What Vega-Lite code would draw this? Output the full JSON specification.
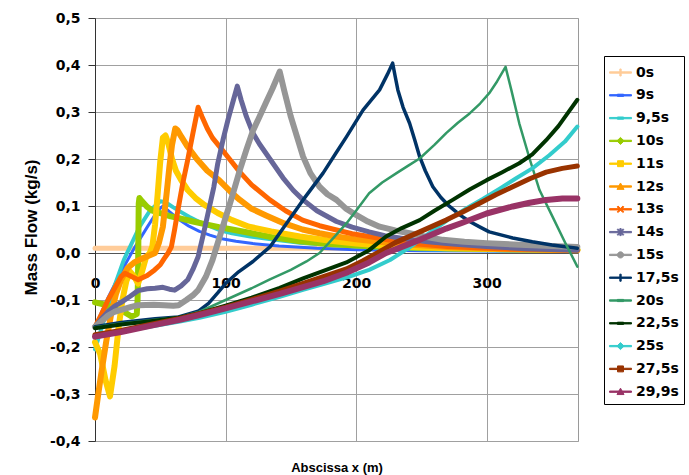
{
  "$schema": "https://vega.github.io/schema/vega-lite/v6.json",
  "width": 483,
  "height": 423,
  "autosize": {"type": "none"},
  "padding": {"left": 95, "top": 18, "right": 111, "bottom": 34},
  "background": "#ffffff",
  "config": {
    "view": {"stroke": "#9a9a9a", "strokeWidth": 1},
    "font": "DejaVu Sans",
    "line": {"strokeCap": "round", "strokeJoin": "round", "clip": true},
    "legend": {
      "orient": "none",
      "legendX": 509,
      "legendY": 38,
      "title": null,
      "padding": 5,
      "strokeColor": "#000000",
      "fillColor": "#ffffff",
      "labelFont": "DejaVu Sans",
      "labelFontSize": 14,
      "labelFontWeight": "bold",
      "labelColor": "#000000",
      "labelOffset": 4,
      "symbolSize": 484,
      "symbolStrokeWidth": 1,
      "symbolOpacity": 1,
      "rowPadding": 3.8
    }
  },
  "data": {
    "values": [
      {"time": "0s", "x": 0, "flow": 0.01}, {"time": "0s", "x": 100, "flow": 0.01}, {"time": "0s", "x": 200, "flow": 0.01}, {"time": "0s", "x": 300, "flow": 0.01}, {"time": "0s", "x": 369.5, "flow": 0.01},

      {"time": "9s", "x": 0, "flow": -0.157}, {"time": "9s", "x": 10, "flow": -0.095}, {"time": "9s", "x": 20, "flow": -0.04}, {"time": "9s", "x": 30, "flow": 0.01}, {"time": "9s", "x": 40, "flow": 0.055}, {"time": "9s", "x": 48, "flow": 0.09}, {"time": "9s", "x": 52, "flow": 0.1}, {"time": "9s", "x": 57, "flow": 0.088}, {"time": "9s", "x": 64, "flow": 0.072}, {"time": "9s", "x": 72, "flow": 0.057}, {"time": "9s", "x": 80, "flow": 0.046}, {"time": "9s", "x": 88, "flow": 0.038}, {"time": "9s", "x": 96, "flow": 0.031}, {"time": "9s", "x": 108, "flow": 0.025}, {"time": "9s", "x": 121, "flow": 0.02}, {"time": "9s", "x": 141, "flow": 0.015}, {"time": "9s", "x": 170, "flow": 0.01}, {"time": "9s", "x": 200, "flow": 0.007}, {"time": "9s", "x": 250, "flow": 0.005}, {"time": "9s", "x": 300, "flow": 0.004}, {"time": "9s", "x": 369.5, "flow": 0.003},

      {"time": "9,5s", "x": 0, "flow": -0.205}, {"time": "9,5s", "x": 5, "flow": -0.16}, {"time": "9,5s", "x": 10, "flow": -0.115}, {"time": "9,5s", "x": 15, "flow": -0.07}, {"time": "9,5s", "x": 22, "flow": -0.015}, {"time": "9,5s", "x": 28, "flow": 0.02}, {"time": "9,5s", "x": 34, "flow": 0.055}, {"time": "9,5s", "x": 42, "flow": 0.09}, {"time": "9,5s", "x": 50, "flow": 0.11}, {"time": "9,5s", "x": 54, "flow": 0.108}, {"time": "9,5s", "x": 60, "flow": 0.097}, {"time": "9,5s", "x": 66, "flow": 0.087}, {"time": "9,5s", "x": 72, "flow": 0.077}, {"time": "9,5s", "x": 80, "flow": 0.066}, {"time": "9,5s", "x": 88, "flow": 0.057}, {"time": "9,5s", "x": 95, "flow": 0.049}, {"time": "9,5s", "x": 105, "flow": 0.042}, {"time": "9,5s", "x": 119, "flow": 0.035}, {"time": "9,5s", "x": 135, "flow": 0.029}, {"time": "9,5s", "x": 157, "flow": 0.022}, {"time": "9,5s", "x": 180, "flow": 0.017}, {"time": "9,5s", "x": 210, "flow": 0.012}, {"time": "9,5s", "x": 250, "flow": 0.008}, {"time": "9,5s", "x": 300, "flow": 0.006}, {"time": "9,5s", "x": 369.5, "flow": 0.004},

      {"time": "10s", "x": 0, "flow": -0.105}, {"time": "10s", "x": 8, "flow": -0.11}, {"time": "10s", "x": 15, "flow": -0.118}, {"time": "10s", "x": 22, "flow": -0.125}, {"time": "10s", "x": 28, "flow": -0.135}, {"time": "10s", "x": 32, "flow": -0.13}, {"time": "10s", "x": 32.6, "flow": -0.1}, {"time": "10s", "x": 32.8, "flow": -0.07}, {"time": "10s", "x": 33, "flow": -0.04}, {"time": "10s", "x": 33.1, "flow": -0.01}, {"time": "10s", "x": 33.2, "flow": 0.02}, {"time": "10s", "x": 33.3, "flow": 0.05}, {"time": "10s", "x": 33.4, "flow": 0.08}, {"time": "10s", "x": 33.5, "flow": 0.105}, {"time": "10s", "x": 34, "flow": 0.117}, {"time": "10s", "x": 36, "flow": 0.11}, {"time": "10s", "x": 40, "flow": 0.098}, {"time": "10s", "x": 44, "flow": 0.09}, {"time": "10s", "x": 50, "flow": 0.085}, {"time": "10s", "x": 58, "flow": 0.078}, {"time": "10s", "x": 66, "flow": 0.073}, {"time": "10s", "x": 75, "flow": 0.067}, {"time": "10s", "x": 85, "flow": 0.061}, {"time": "10s", "x": 95, "flow": 0.055}, {"time": "10s", "x": 105, "flow": 0.05}, {"time": "10s", "x": 118, "flow": 0.043}, {"time": "10s", "x": 135, "flow": 0.034}, {"time": "10s", "x": 157, "flow": 0.025}, {"time": "10s", "x": 180, "flow": 0.019}, {"time": "10s", "x": 200, "flow": 0.016}, {"time": "10s", "x": 230, "flow": 0.012}, {"time": "10s", "x": 270, "flow": 0.01}, {"time": "10s", "x": 320, "flow": 0.008}, {"time": "10s", "x": 369.5, "flow": 0.007},

      {"time": "11s", "x": 0, "flow": -0.19}, {"time": "11s", "x": 4, "flow": -0.215}, {"time": "11s", "x": 8, "flow": -0.27}, {"time": "11s", "x": 11.5, "flow": -0.305}, {"time": "11s", "x": 15, "flow": -0.24}, {"time": "11s", "x": 18, "flow": -0.16}, {"time": "11s", "x": 21, "flow": -0.1}, {"time": "11s", "x": 24, "flow": -0.06}, {"time": "11s", "x": 27, "flow": -0.04}, {"time": "11s", "x": 30, "flow": -0.05}, {"time": "11s", "x": 33, "flow": -0.065}, {"time": "11s", "x": 36, "flow": -0.04}, {"time": "11s", "x": 39, "flow": -0.01}, {"time": "11s", "x": 42, "flow": 0.0}, {"time": "11s", "x": 44, "flow": 0.015}, {"time": "11s", "x": 46, "flow": 0.06}, {"time": "11s", "x": 48, "flow": 0.125}, {"time": "11s", "x": 50, "flow": 0.195}, {"time": "11s", "x": 52, "flow": 0.245}, {"time": "11s", "x": 54, "flow": 0.25}, {"time": "11s", "x": 56, "flow": 0.235}, {"time": "11s", "x": 59, "flow": 0.2}, {"time": "11s", "x": 62, "flow": 0.175}, {"time": "11s", "x": 66, "flow": 0.155}, {"time": "11s", "x": 71, "flow": 0.134}, {"time": "11s", "x": 77, "flow": 0.117}, {"time": "11s", "x": 84, "flow": 0.102}, {"time": "11s", "x": 94, "flow": 0.085}, {"time": "11s", "x": 105, "flow": 0.07}, {"time": "11s", "x": 118, "flow": 0.056}, {"time": "11s", "x": 135, "flow": 0.046}, {"time": "11s", "x": 157, "flow": 0.035}, {"time": "11s", "x": 180, "flow": 0.026}, {"time": "11s", "x": 200, "flow": 0.02}, {"time": "11s", "x": 230, "flow": 0.014}, {"time": "11s", "x": 270, "flow": 0.01}, {"time": "11s", "x": 320, "flow": 0.008}, {"time": "11s", "x": 369.5, "flow": 0.007},

      {"time": "12s", "x": 0, "flow": -0.35}, {"time": "12s", "x": 2.5, "flow": -0.3}, {"time": "12s", "x": 4.8, "flow": -0.256}, {"time": "12s", "x": 8.5, "flow": -0.19}, {"time": "12s", "x": 12.5, "flow": -0.128}, {"time": "12s", "x": 16, "flow": -0.088}, {"time": "12s", "x": 20, "flow": -0.057}, {"time": "12s", "x": 25, "flow": -0.032}, {"time": "12s", "x": 30, "flow": -0.02}, {"time": "12s", "x": 36, "flow": -0.012}, {"time": "12s", "x": 42, "flow": -0.005}, {"time": "12s", "x": 46, "flow": 0.0}, {"time": "12s", "x": 49, "flow": 0.022}, {"time": "12s", "x": 52, "flow": 0.056}, {"time": "12s", "x": 55, "flow": 0.13}, {"time": "12s", "x": 57, "flow": 0.184}, {"time": "12s", "x": 59, "flow": 0.23}, {"time": "12s", "x": 61.5, "flow": 0.265}, {"time": "12s", "x": 63, "flow": 0.262}, {"time": "12s", "x": 66, "flow": 0.248}, {"time": "12s", "x": 71, "flow": 0.226}, {"time": "12s", "x": 78, "flow": 0.2}, {"time": "12s", "x": 86, "flow": 0.175}, {"time": "12s", "x": 95, "flow": 0.155}, {"time": "12s", "x": 104, "flow": 0.13}, {"time": "12s", "x": 111, "flow": 0.113}, {"time": "12s", "x": 120, "flow": 0.094}, {"time": "12s", "x": 131, "flow": 0.08}, {"time": "12s", "x": 145, "flow": 0.063}, {"time": "12s", "x": 159, "flow": 0.05}, {"time": "12s", "x": 172, "flow": 0.042}, {"time": "12s", "x": 185, "flow": 0.035}, {"time": "12s", "x": 200, "flow": 0.029}, {"time": "12s", "x": 218, "flow": 0.024}, {"time": "12s", "x": 240, "flow": 0.018}, {"time": "12s", "x": 270, "flow": 0.013}, {"time": "12s", "x": 310, "flow": 0.009}, {"time": "12s", "x": 369.5, "flow": 0.006},

      {"time": "13s", "x": 0, "flow": -0.157}, {"time": "13s", "x": 5, "flow": -0.13}, {"time": "13s", "x": 10, "flow": -0.1}, {"time": "13s", "x": 15, "flow": -0.075}, {"time": "13s", "x": 20, "flow": -0.05}, {"time": "13s", "x": 23, "flow": -0.043}, {"time": "13s", "x": 28, "flow": -0.05}, {"time": "13s", "x": 33, "flow": -0.057}, {"time": "13s", "x": 40, "flow": -0.048}, {"time": "13s", "x": 45.7, "flow": -0.036}, {"time": "13s", "x": 50, "flow": -0.025}, {"time": "13s", "x": 53, "flow": -0.012}, {"time": "13s", "x": 56, "flow": 0.0}, {"time": "13s", "x": 58.5, "flow": 0.013}, {"time": "13s", "x": 61, "flow": 0.05}, {"time": "13s", "x": 63.5, "flow": 0.091}, {"time": "13s", "x": 67, "flow": 0.145}, {"time": "13s", "x": 71, "flow": 0.198}, {"time": "13s", "x": 75, "flow": 0.255}, {"time": "13s", "x": 79, "flow": 0.31}, {"time": "13s", "x": 82, "flow": 0.29}, {"time": "13s", "x": 86, "flow": 0.265}, {"time": "13s", "x": 90, "flow": 0.245}, {"time": "13s", "x": 95, "flow": 0.228}, {"time": "13s", "x": 103, "flow": 0.2}, {"time": "13s", "x": 111, "flow": 0.172}, {"time": "13s", "x": 120, "flow": 0.145}, {"time": "13s", "x": 134, "flow": 0.113}, {"time": "13s", "x": 146, "flow": 0.09}, {"time": "13s", "x": 159, "flow": 0.07}, {"time": "13s", "x": 172, "flow": 0.058}, {"time": "13s", "x": 185, "flow": 0.049}, {"time": "13s", "x": 197, "flow": 0.041}, {"time": "13s", "x": 210, "flow": 0.035}, {"time": "13s", "x": 236, "flow": 0.022}, {"time": "13s", "x": 270, "flow": 0.014}, {"time": "13s", "x": 310, "flow": 0.009}, {"time": "13s", "x": 369.5, "flow": 0.006},

      {"time": "14s", "x": 0, "flow": -0.157}, {"time": "14s", "x": 5, "flow": -0.14}, {"time": "14s", "x": 10, "flow": -0.125}, {"time": "14s", "x": 15, "flow": -0.113}, {"time": "14s", "x": 20, "flow": -0.105}, {"time": "14s", "x": 27, "flow": -0.092}, {"time": "14s", "x": 33, "flow": -0.08}, {"time": "14s", "x": 40, "flow": -0.076}, {"time": "14s", "x": 46, "flow": -0.075}, {"time": "14s", "x": 52, "flow": -0.073}, {"time": "14s", "x": 57, "flow": -0.077}, {"time": "14s", "x": 61, "flow": -0.079}, {"time": "14s", "x": 66, "flow": -0.07}, {"time": "14s", "x": 71, "flow": -0.057}, {"time": "14s", "x": 75, "flow": -0.035}, {"time": "14s", "x": 79, "flow": -0.008}, {"time": "14s", "x": 83, "flow": 0.04}, {"time": "14s", "x": 87, "flow": 0.09}, {"time": "14s", "x": 91, "flow": 0.14}, {"time": "14s", "x": 94, "flow": 0.19}, {"time": "14s", "x": 98, "flow": 0.24}, {"time": "14s", "x": 102, "flow": 0.285}, {"time": "14s", "x": 106, "flow": 0.325}, {"time": "14s", "x": 109, "flow": 0.355}, {"time": "14s", "x": 112, "flow": 0.325}, {"time": "14s", "x": 116, "flow": 0.29}, {"time": "14s", "x": 121, "flow": 0.255}, {"time": "14s", "x": 126, "flow": 0.232}, {"time": "14s", "x": 134, "flow": 0.2}, {"time": "14s", "x": 144, "flow": 0.16}, {"time": "14s", "x": 152, "flow": 0.133}, {"time": "14s", "x": 159.4, "flow": 0.113}, {"time": "14s", "x": 170, "flow": 0.09}, {"time": "14s", "x": 185, "flow": 0.067}, {"time": "14s", "x": 197, "flow": 0.055}, {"time": "14s", "x": 210, "flow": 0.045}, {"time": "14s", "x": 222, "flow": 0.037}, {"time": "14s", "x": 236, "flow": 0.031}, {"time": "14s", "x": 255, "flow": 0.024}, {"time": "14s", "x": 274, "flow": 0.019}, {"time": "14s", "x": 300, "flow": 0.014}, {"time": "14s", "x": 330, "flow": 0.009}, {"time": "14s", "x": 369.5, "flow": 0.006},

      {"time": "15s", "x": 0, "flow": -0.157}, {"time": "15s", "x": 5, "flow": -0.145}, {"time": "15s", "x": 10, "flow": -0.133}, {"time": "15s", "x": 15, "flow": -0.125}, {"time": "15s", "x": 20, "flow": -0.121}, {"time": "15s", "x": 27, "flow": -0.115}, {"time": "15s", "x": 33, "flow": -0.111}, {"time": "15s", "x": 45, "flow": -0.11}, {"time": "15s", "x": 53, "flow": -0.111}, {"time": "15s", "x": 60, "flow": -0.112}, {"time": "15s", "x": 64, "flow": -0.111}, {"time": "15s", "x": 70, "flow": -0.1}, {"time": "15s", "x": 75, "flow": -0.09}, {"time": "15s", "x": 79, "flow": -0.079}, {"time": "15s", "x": 85, "flow": -0.05}, {"time": "15s", "x": 90, "flow": -0.015}, {"time": "15s", "x": 95, "flow": 0.03}, {"time": "15s", "x": 100, "flow": 0.075}, {"time": "15s", "x": 105, "flow": 0.12}, {"time": "15s", "x": 111, "flow": 0.177}, {"time": "15s", "x": 116, "flow": 0.22}, {"time": "15s", "x": 121, "flow": 0.26}, {"time": "15s", "x": 126, "flow": 0.29}, {"time": "15s", "x": 131, "flow": 0.32}, {"time": "15s", "x": 136, "flow": 0.35}, {"time": "15s", "x": 141.5, "flow": 0.386}, {"time": "15s", "x": 145, "flow": 0.345}, {"time": "15s", "x": 150, "flow": 0.29}, {"time": "15s", "x": 155, "flow": 0.245}, {"time": "15s", "x": 159.4, "flow": 0.205}, {"time": "15s", "x": 165, "flow": 0.17}, {"time": "15s", "x": 172, "flow": 0.141}, {"time": "15s", "x": 178, "flow": 0.125}, {"time": "15s", "x": 185, "flow": 0.113}, {"time": "15s", "x": 192, "flow": 0.095}, {"time": "15s", "x": 200, "flow": 0.081}, {"time": "15s", "x": 209, "flow": 0.067}, {"time": "15s", "x": 218, "flow": 0.056}, {"time": "15s", "x": 230, "flow": 0.048}, {"time": "15s", "x": 241, "flow": 0.042}, {"time": "15s", "x": 254, "flow": 0.034}, {"time": "15s", "x": 266.5, "flow": 0.028}, {"time": "15s", "x": 283, "flow": 0.024}, {"time": "15s", "x": 300, "flow": 0.021}, {"time": "15s", "x": 330, "flow": 0.017}, {"time": "15s", "x": 369.5, "flow": 0.013},

      {"time": "17,5s", "x": 0, "flow": -0.157}, {"time": "17,5s", "x": 20, "flow": -0.148}, {"time": "17,5s", "x": 46, "flow": -0.14}, {"time": "17,5s", "x": 64, "flow": -0.136}, {"time": "17,5s", "x": 79, "flow": -0.124}, {"time": "17,5s", "x": 87, "flow": -0.107}, {"time": "17,5s", "x": 94, "flow": -0.085}, {"time": "17,5s", "x": 100, "flow": -0.065}, {"time": "17,5s", "x": 110, "flow": -0.04}, {"time": "17,5s", "x": 121, "flow": -0.018}, {"time": "17,5s", "x": 134, "flow": 0.013}, {"time": "17,5s", "x": 146, "flow": 0.06}, {"time": "17,5s", "x": 159.4, "flow": 0.113}, {"time": "17,5s", "x": 174.7, "flow": 0.17}, {"time": "17,5s", "x": 184, "flow": 0.21}, {"time": "17,5s", "x": 192.6, "flow": 0.247}, {"time": "17,5s", "x": 205.3, "flow": 0.304}, {"time": "17,5s", "x": 218, "flow": 0.347}, {"time": "17,5s", "x": 224, "flow": 0.38}, {"time": "17,5s", "x": 228, "flow": 0.404}, {"time": "17,5s", "x": 230, "flow": 0.375}, {"time": "17,5s", "x": 232, "flow": 0.347}, {"time": "17,5s", "x": 236, "flow": 0.31}, {"time": "17,5s", "x": 241, "flow": 0.276}, {"time": "17,5s", "x": 245, "flow": 0.24}, {"time": "17,5s", "x": 248.7, "flow": 0.205}, {"time": "17,5s", "x": 253, "flow": 0.175}, {"time": "17,5s", "x": 258.8, "flow": 0.141}, {"time": "17,5s", "x": 265, "flow": 0.118}, {"time": "17,5s", "x": 271.6, "flow": 0.099}, {"time": "17,5s", "x": 280, "flow": 0.08}, {"time": "17,5s", "x": 287, "flow": 0.067}, {"time": "17,5s", "x": 295, "flow": 0.055}, {"time": "17,5s", "x": 302, "flow": 0.045}, {"time": "17,5s", "x": 320, "flow": 0.032}, {"time": "17,5s", "x": 335, "flow": 0.024}, {"time": "17,5s", "x": 350, "flow": 0.017}, {"time": "17,5s", "x": 369.5, "flow": 0.01},

      {"time": "20s", "x": 0, "flow": -0.158}, {"time": "20s", "x": 20, "flow": -0.15}, {"time": "20s", "x": 46, "flow": -0.142}, {"time": "20s", "x": 65, "flow": -0.136}, {"time": "20s", "x": 80, "flow": -0.125}, {"time": "20s", "x": 100, "flow": -0.1}, {"time": "20s", "x": 120, "flow": -0.075}, {"time": "20s", "x": 134, "flow": -0.056}, {"time": "20s", "x": 150, "flow": -0.036}, {"time": "20s", "x": 162, "flow": -0.018}, {"time": "20s", "x": 172, "flow": 0.0}, {"time": "20s", "x": 182, "flow": 0.03}, {"time": "20s", "x": 192.6, "flow": 0.063}, {"time": "20s", "x": 200, "flow": 0.09}, {"time": "20s", "x": 210, "flow": 0.127}, {"time": "20s", "x": 220, "flow": 0.15}, {"time": "20s", "x": 231, "flow": 0.17}, {"time": "20s", "x": 240, "flow": 0.186}, {"time": "20s", "x": 248.7, "flow": 0.201}, {"time": "20s", "x": 260, "flow": 0.23}, {"time": "20s", "x": 269, "flow": 0.255}, {"time": "20s", "x": 278, "flow": 0.277}, {"time": "20s", "x": 287, "flow": 0.297}, {"time": "20s", "x": 295, "flow": 0.318}, {"time": "20s", "x": 302, "flow": 0.34}, {"time": "20s", "x": 308, "flow": 0.365}, {"time": "20s", "x": 314.5, "flow": 0.396}, {"time": "20s", "x": 319, "flow": 0.346}, {"time": "20s", "x": 325, "flow": 0.276}, {"time": "20s", "x": 333, "flow": 0.2}, {"time": "20s", "x": 340.5, "flow": 0.134}, {"time": "20s", "x": 350, "flow": 0.08}, {"time": "20s", "x": 360, "flow": 0.023}, {"time": "20s", "x": 369.5, "flow": -0.029},

      {"time": "22,5s", "x": 0, "flow": -0.16}, {"time": "22,5s", "x": 20, "flow": -0.152}, {"time": "22,5s", "x": 46, "flow": -0.144}, {"time": "22,5s", "x": 65, "flow": -0.137}, {"time": "22,5s", "x": 80, "flow": -0.128}, {"time": "22,5s", "x": 100, "flow": -0.112}, {"time": "22,5s", "x": 120, "flow": -0.095}, {"time": "22,5s", "x": 141.5, "flow": -0.074}, {"time": "22,5s", "x": 159.4, "flow": -0.054}, {"time": "22,5s", "x": 175, "flow": -0.038}, {"time": "22,5s", "x": 192.6, "flow": -0.02}, {"time": "22,5s", "x": 200, "flow": -0.009}, {"time": "22,5s", "x": 210, "flow": 0.006}, {"time": "22,5s", "x": 223, "flow": 0.035}, {"time": "22,5s", "x": 235, "flow": 0.053}, {"time": "22,5s", "x": 248.7, "flow": 0.07}, {"time": "22,5s", "x": 260, "flow": 0.09}, {"time": "22,5s", "x": 274, "flow": 0.113}, {"time": "22,5s", "x": 287, "flow": 0.135}, {"time": "22,5s", "x": 300, "flow": 0.155}, {"time": "22,5s", "x": 312, "flow": 0.172}, {"time": "22,5s", "x": 325, "flow": 0.191}, {"time": "22,5s", "x": 335, "flow": 0.21}, {"time": "22,5s", "x": 345.6, "flow": 0.24}, {"time": "22,5s", "x": 355, "flow": 0.27}, {"time": "22,5s", "x": 362, "flow": 0.297}, {"time": "22,5s", "x": 369.5, "flow": 0.326},

      {"time": "25s", "x": 0, "flow": -0.175}, {"time": "25s", "x": 20, "flow": -0.167}, {"time": "25s", "x": 46, "flow": -0.155}, {"time": "25s", "x": 65, "flow": -0.146}, {"time": "25s", "x": 80, "flow": -0.138}, {"time": "25s", "x": 100, "flow": -0.125}, {"time": "25s", "x": 120, "flow": -0.11}, {"time": "25s", "x": 141.5, "flow": -0.093}, {"time": "25s", "x": 160, "flow": -0.078}, {"time": "25s", "x": 175, "flow": -0.066}, {"time": "25s", "x": 195, "flow": -0.05}, {"time": "25s", "x": 210, "flow": -0.036}, {"time": "25s", "x": 226, "flow": -0.015}, {"time": "25s", "x": 240, "flow": 0.01}, {"time": "25s", "x": 255, "flow": 0.04}, {"time": "25s", "x": 270, "flow": 0.07}, {"time": "25s", "x": 285, "flow": 0.096}, {"time": "25s", "x": 297, "flow": 0.115}, {"time": "25s", "x": 310, "flow": 0.137}, {"time": "25s", "x": 322, "flow": 0.158}, {"time": "25s", "x": 335, "flow": 0.18}, {"time": "25s", "x": 348, "flow": 0.208}, {"time": "25s", "x": 360, "flow": 0.237}, {"time": "25s", "x": 369.5, "flow": 0.269},

      {"time": "27,5s", "x": 0, "flow": -0.174}, {"time": "27,5s", "x": 20, "flow": -0.165}, {"time": "27,5s", "x": 46, "flow": -0.15}, {"time": "27,5s", "x": 65, "flow": -0.139}, {"time": "27,5s", "x": 80, "flow": -0.129}, {"time": "27,5s", "x": 100, "flow": -0.115}, {"time": "27,5s", "x": 120, "flow": -0.099}, {"time": "27,5s", "x": 141.5, "flow": -0.081}, {"time": "27,5s", "x": 160, "flow": -0.064}, {"time": "27,5s", "x": 175, "flow": -0.05}, {"time": "27,5s", "x": 192.6, "flow": -0.034}, {"time": "27,5s", "x": 205, "flow": -0.017}, {"time": "27,5s", "x": 218, "flow": 0.003}, {"time": "27,5s", "x": 230, "flow": 0.022}, {"time": "27,5s", "x": 248.7, "flow": 0.045}, {"time": "27,5s", "x": 269, "flow": 0.07}, {"time": "27,5s", "x": 282, "flow": 0.088}, {"time": "27,5s", "x": 294.6, "flow": 0.106}, {"time": "27,5s", "x": 307, "flow": 0.124}, {"time": "27,5s", "x": 320, "flow": 0.141}, {"time": "27,5s", "x": 333, "flow": 0.158}, {"time": "27,5s", "x": 345.6, "flow": 0.172}, {"time": "27,5s", "x": 358, "flow": 0.18}, {"time": "27,5s", "x": 369.5, "flow": 0.185},

      {"time": "29,9s", "x": 0, "flow": -0.178}, {"time": "29,9s", "x": 20, "flow": -0.168}, {"time": "29,9s", "x": 46, "flow": -0.153}, {"time": "29,9s", "x": 65, "flow": -0.142}, {"time": "29,9s", "x": 80, "flow": -0.132}, {"time": "29,9s", "x": 100, "flow": -0.118}, {"time": "29,9s", "x": 120, "flow": -0.103}, {"time": "29,9s", "x": 141.5, "flow": -0.087}, {"time": "29,9s", "x": 160, "flow": -0.072}, {"time": "29,9s", "x": 175, "flow": -0.06}, {"time": "29,9s", "x": 192.6, "flow": -0.042}, {"time": "29,9s", "x": 210, "flow": -0.02}, {"time": "29,9s", "x": 223, "flow": 0.0}, {"time": "29,9s", "x": 235, "flow": 0.013}, {"time": "29,9s", "x": 248.7, "flow": 0.028}, {"time": "29,9s", "x": 269, "flow": 0.052}, {"time": "29,9s", "x": 282, "flow": 0.065}, {"time": "29,9s", "x": 300, "flow": 0.084}, {"time": "29,9s", "x": 320, "flow": 0.099}, {"time": "29,9s", "x": 333, "flow": 0.107}, {"time": "29,9s", "x": 345.6, "flow": 0.113}, {"time": "29,9s", "x": 358, "flow": 0.116}, {"time": "29,9s", "x": 369.5, "flow": 0.116}
    ]
  },
  "encoding": {
    "x": {
      "field": "x",
      "type": "quantitative",
      "scale": {"domain": [0, 370], "nice": false, "zero": false},
      "axis": {
        "values": [0, 100, 200, 300],
        "format": "d",
        "offset": -188,
        "labelFlush": false,
        "labelFont": "DejaVu Sans",
        "labelFontSize": 14,
        "labelFontWeight": "bold",
        "labelColor": "#000000",
        "labelPadding": 17,
        "tickSize": 6,
        "tickColor": "#555555",
        "domainColor": "#555555",
        "grid": true,
        "gridColor": "#a0a0a0",
        "title": "Abscissa x (m)",
        "titleFont": "Liberation Sans",
        "titleFontSize": 13,
        "titleFontWeight": "bold",
        "titleColor": "#000000",
        "titleY": 214,
        "titleBaseline": "middle"
      }
    },
    "y": {
      "field": "flow",
      "type": "quantitative",
      "scale": {"domain": [-0.4, 0.5], "nice": false, "zero": false},
      "axis": {
        "values": [-0.4, -0.3, -0.2, -0.1, 0, 0.1, 0.2, 0.3, 0.4, 0.5],
        "labelExpr": "replace(replace(format(datum.value, '.1f'), '.', ','), '−', '-')",
        "labelFont": "DejaVu Sans",
        "labelFontSize": 14,
        "labelFontWeight": "bold",
        "labelColor": "#000000",
        "labelPadding": 8,
        "tickSize": 7,
        "tickColor": "#333333",
        "domainColor": "#333333",
        "grid": true,
        "gridColor": "#a0a0a0",
        "title": "Mass Flow (kg/s)",
        "titleFont": "Liberation Sans",
        "titleFontSize": 17,
        "titleFontWeight": "bold",
        "titleColor": "#000000",
        "titleAngle": 270,
        "titleX": -64,
        "titleY": 209,
        "titleAlign": "center",
        "titleBaseline": "middle"
      }
    },
    "color": {
      "field": "time",
      "type": "nominal",
      "scale": {
        "domain": ["0s", "9s", "9,5s", "10s", "11s", "12s", "13s", "14s", "15s", "17,5s", "20s", "22,5s", "25s", "27,5s", "29,9s"],
        "range": ["#FFCC99", "#3366FF", "#33CCCC", "#99CC00", "#FFCC00", "#FF9900", "#FF6600", "#666699", "#969696", "#003366", "#339966", "#003300", "#33CCCC", "#993300", "#993366"]
      }
    }
  },
  "layer": [
    {
      "description": "Legend key only: the series' line-and-marker swatches; the filter leaves no rows, so nothing is drawn in the plot.",
      "transform": [{"filter": {"field": "x", "lt": 0}}],
      "mark": {"type": "point", "filled": true, "opacity": 1, "strokeWidth": 1},
      "encoding": {
        "shape": {
          "field": "time",
          "type": "nominal",
          "scale": {
            "domain": ["0s", "9s", "9,5s", "10s", "11s", "12s", "13s", "14s", "15s", "17,5s", "20s", "22,5s", "25s", "27,5s", "29,9s"],
            "range": [
              "M-1,-0.06H1V0.06H-1ZM-0.06,-0.32H0.06V0.32H-0.06Z",
              "M-1,-0.06H1V0.06H-1ZM-0.28,-0.1H0.28V0.1H-0.28Z",
              "M-1,-0.06H1V0.06H-1ZM-0.28,-0.1H0.28V0.1H-0.28Z",
              "M-1,-0.06H1V0.06H-1ZM0,-0.32L0.32,0L0,0.32L-0.32,0Z",
              "M-1,-0.06H1V0.06H-1ZM-0.27,-0.27H0.27V0.27H-0.27Z",
              "M-1,-0.06H1V0.06H-1ZM0,-0.32L0.32,0.26H-0.32Z",
              "M-1,-0.06H1V0.06H-1ZM-0.3,-0.22L-0.22,-0.3L0.3,0.22L0.22,0.3ZM0.22,-0.3L0.3,-0.22L-0.22,0.3L-0.3,0.22Z",
              "M-1,-0.06H1V0.06H-1ZM-0.3,-0.22L-0.22,-0.3L0.3,0.22L0.22,0.3ZM0.22,-0.3L0.3,-0.22L-0.22,0.3L-0.3,0.22ZM-0.06,-0.32H0.06V0.32H-0.06Z",
              "M-1,-0.06H1V0.06H-1ZM-0.28,0A0.28,0.28,0,1,1,0.28,0A0.28,0.28,0,1,1,-0.28,0Z",
              "M-1,-0.06H1V0.06H-1ZM-0.06,-0.32H0.06V0.32H-0.06Z",
              "M-1,-0.06H1V0.06H-1ZM-0.28,-0.1H0.28V0.1H-0.28Z",
              "M-1,-0.06H1V0.06H-1ZM-0.28,-0.1H0.28V0.1H-0.28Z",
              "M-1,-0.06H1V0.06H-1ZM0,-0.32L0.32,0L0,0.32L-0.32,0Z",
              "M-1,-0.06H1V0.06H-1ZM-0.27,-0.27H0.27V0.27H-0.27Z",
              "M-1,-0.06H1V0.06H-1ZM0,-0.32L0.32,0.26H-0.32Z"
            ]
          }
        }
      }
    },
    {"transform": [{"filter": {"field": "time", "equal": "0s"}}], "mark": {"type": "line", "strokeWidth": 5}},
    {"transform": [{"filter": {"field": "time", "equal": "9s"}}], "mark": {"type": "line", "strokeWidth": 3}},
    {"transform": [{"filter": {"field": "time", "equal": "9,5s"}}], "mark": {"type": "line", "strokeWidth": 4}},
    {"transform": [{"filter": {"field": "time", "equal": "10s"}}], "mark": {"type": "line", "strokeWidth": 6}},
    {"transform": [{"filter": {"field": "time", "equal": "11s"}}], "mark": {"type": "line", "strokeWidth": 6}},
    {"transform": [{"filter": {"field": "time", "equal": "12s"}}], "mark": {"type": "line", "strokeWidth": 6}},
    {"transform": [{"filter": {"field": "time", "equal": "13s"}}], "mark": {"type": "line", "strokeWidth": 5}},
    {"transform": [{"filter": {"field": "time", "equal": "14s"}}], "mark": {"type": "line", "strokeWidth": 5}},
    {"transform": [{"filter": {"field": "time", "equal": "15s"}}], "mark": {"type": "line", "strokeWidth": 6}},
    {"transform": [{"filter": {"field": "time", "equal": "17,5s"}}], "mark": {"type": "line", "strokeWidth": 3.5}},
    {"transform": [{"filter": {"field": "time", "equal": "20s"}}], "mark": {"type": "line", "strokeWidth": 2.5}},
    {"transform": [{"filter": {"field": "time", "equal": "22,5s"}}], "mark": {"type": "line", "strokeWidth": 4}},
    {"transform": [{"filter": {"field": "time", "equal": "25s"}}], "mark": {"type": "line", "strokeWidth": 4}},
    {"transform": [{"filter": {"field": "time", "equal": "27,5s"}}], "mark": {"type": "line", "strokeWidth": 5}},
    {"transform": [{"filter": {"field": "time", "equal": "29,9s"}}], "mark": {"type": "line", "strokeWidth": 6}}
  ]
}
